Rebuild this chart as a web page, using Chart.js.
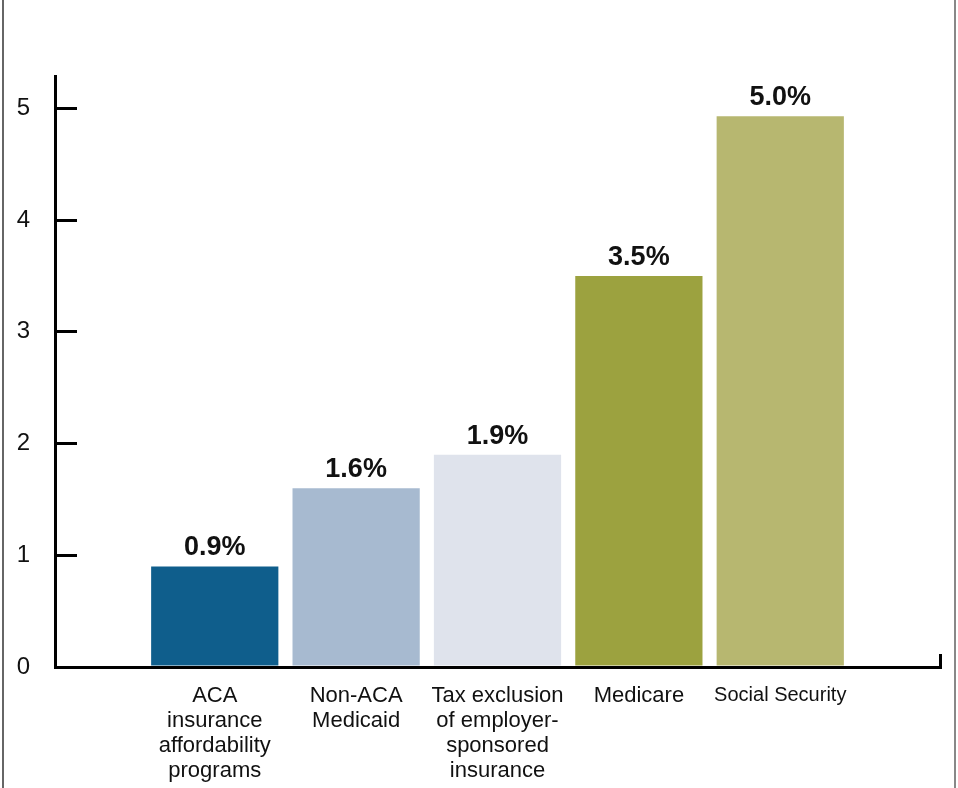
<!DOCTYPE html>
<html>
<head>
<meta charset="utf-8">
<script src="https://cdn.jsdelivr.net/npm/chart.js@4.4.0/dist/chart.umd.min.js"></script>
<style>
html, body { margin: 0; padding: 0; background: #fff; }
#wrap { position: relative; width: 958px; height: 788px; }
#wrap:before { content: ''; position: absolute; left: 2px; top: 0; width: 2px; height: 788px; background: #666; }
#wrap:after { content: ''; position: absolute; left: 954px; top: 0; width: 2px; height: 788px; background: #888; }
</style>
</head>
<body>
<div id="wrap"><canvas id="chart" width="958" height="788"></canvas></div>
<script>
var categories = [
    ["ACA", "insurance", "affordability", "programs"],
    ["Non-ACA", "Medicaid"],
    ["Tax exclusion", "of employer-", "sponsored", "insurance"],
    ["Medicare"],
    ["Social Security"]
];
var values = [0.9, 1.6, 1.9, 3.5, 4.93];
var valueLabels = ["0.9%", "1.6%", "1.9%", "3.5%", "5.0%"];
var barColors = ["#0f5e8c", "#a7bad0", "#dfe3ec", "#9ca23f", "#b7b770"];
var yTicks = [0, 1, 2, 3, 4, 5];
var yMax = 5.29;
var xMin = -1.13, xMax = 5.13;

var fontFamily = '"Liberation Sans", Arial, Helvetica, sans-serif';

// value labels above the bars
var barLabels = {
    id: 'barLabels',
    afterDatasetsDraw: function(chart) {
        var ctx = chart.ctx;
        var meta = chart.getDatasetMeta(0);
        ctx.save();
        ctx.font = 'bold 27px ' + fontFamily;
        ctx.fillStyle = '#111';
        ctx.textAlign = 'center';
        ctx.textBaseline = 'alphabetic';
        meta.data.forEach(function(bar, i) {
            ctx.fillText(valueLabels[i], bar.x, bar.y - 11);
        });
        ctx.restore();
    }
};

var ctx = document.getElementById('chart');
var myChart = new Chart(ctx, {
    type: 'bar',
    data: {
        datasets: [{
            data: values.map(function(v, i) { return {x: i, y: v}; }),
            backgroundColor: barColors,
            categoryPercentage: 1,
            barPercentage: 0.9
        }]
    },
    options: {
        responsive: false,
        animation: false,
        layout: { padding: { top: 76, right: 18, left: 0, bottom: 0 } },
        plugins: { legend: { display: false }, tooltip: { enabled: false } },
        scales: {
            x: {
                type: 'linear',
                min: xMin,
                max: xMax,
                offset: false,
                afterBuildTicks: function(s) {
                    s.ticks = categories.map(function(c, i) { return {value: i}; }).concat([{value: xMax}]);
                },
                afterFit: function(s) {
                    s.height = 121;
                    s.paddingLeft = 0;
                    s.paddingRight = 0;
                },
                border: { color: '#000', width: 3 },
                grid: {
                    offset: false,
                    drawOnChartArea: false,
                    tickLength: -13,
                    lineWidth: 3,
                    color: function(c) {
                        return (c.tick && c.tick.value === xMax) ? '#000' : 'rgba(0,0,0,0)';
                    }
                },
                ticks: {
                    padding: 29,
                    maxRotation: 0,
                    autoSkip: false,
                    color: '#111',
                    font: function(c) {
                        return { family: fontFamily, size: c.index === 4 ? 20 : 22, lineHeight: '25px' };
                    },
                    callback: function(v) { return categories[v] || ''; }
                }
            },
            y: {
                min: 0,
                max: yMax,
                afterBuildTicks: function(s) {
                    s.ticks = yTicks.map(function(t) { return {value: t}; });
                },
                afterFit: function(s) { s.width = 55; },
                border: { color: '#000', width: 3 },
                grid: { drawOnChartArea: false, tickLength: -22, lineWidth: 3, color: '#000' },
                ticks: {
                    padding: 47,
                    color: '#111',
                    font: { family: fontFamily, size: 24 },
                    callback: function(v) { return String(v); }
                }
            }
        }
    },
    plugins: [barLabels]
});
</script>
</body>
</html>
